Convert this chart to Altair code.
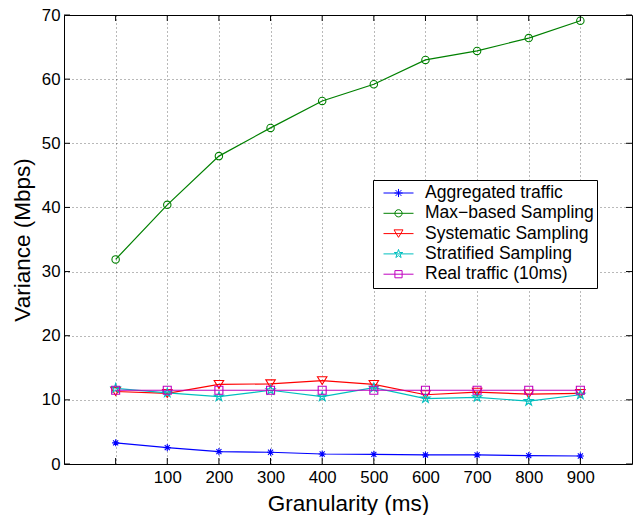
import math
import altair as alt
import pandas as pd

# ---- data ----
granularity = [0, 100, 200, 300, 400, 500, 600, 700, 800, 900]
aggregated = [3.3, 2.55, 1.93, 1.83, 1.56, 1.51, 1.41, 1.41, 1.31, 1.25]
max_based = [31.9, 40.4, 48.0, 52.4, 56.6, 59.2, 63.0, 64.4, 66.4, 69.1]
systematic = [11.3, 11.0, 12.4, 12.5, 13.0, 12.4, 10.8, 11.2, 10.9, 11.0]
stratified = [11.8, 11.1, 10.5, 11.5, 10.5, 11.9, 10.2, 10.4, 9.8, 10.8]
real_traffic = [11.5, 11.5, 11.5, 11.5, 11.5, 11.5, 11.5, 11.5, 11.5, 11.5]

series_names = ["Aggregated traffic", "Max\u2212based Sampling", "Systematic Sampling",
                "Stratified Sampling", "Real traffic (10ms)"]
series_values = [aggregated, max_based, systematic, stratified, real_traffic]
series_colors = ["#0000FF", "#008000", "#FF0000", "#00BFBF", "#BF00BF"]

x_ticks = [0, 100, 200, 300, 400, 500, 600, 700, 800, 900]
y_ticks = [0, 10, 20, 30, 40, 50, 60, 70]

W, H = 568, 449
FONT = "Liberation Sans"


# ---- marker shapes (unit box -1..1) ----
def poly(pts, s=1.0):
    return "M" + "L".join(f"{x*s:.3f},{y*s:.3f}" for x, y in pts) + "Z"


def asterisk(s=1.0):
    d = 0.72 * s
    return (f"M{-s},0L{s},0M0,{-s}L0,{s}"
            f"M{-d:.3f},{-d:.3f}L{d:.3f},{d:.3f}M{-d:.3f},{d:.3f}L{d:.3f},{-d:.3f}")


def circle(s=1.0):
    return f"M{s},0A{s},{s} 0 1,1 {-s},0A{s},{s} 0 1,1 {s},0Z"


star_pts = []
for k in range(10):
    a = -math.pi / 2 + k * math.pi / 5
    r = 1.0 if k % 2 == 0 else 0.382
    star_pts.append((r * math.cos(a), r * math.sin(a)))
tri_pts = [(-1, -0.83), (1, -0.83), (0, 0.83)]
sq_pts = [(-1, -1), (1, -1), (1, 1), (-1, 1)]

plot_shapes = [asterisk(), circle(), poly(tri_pts), poly(star_pts), poly(sq_pts)]
plot_sizes = [50, 55, 90, 90, 64]
ls = 0.27
legend_shapes = ["M-1,0L1,0" + p for p in
                 [asterisk(ls), circle(0.24), poly(tri_pts, 0.3), poly(star_pts, 0.3), poly(sq_pts, 0.24)]]

xscale = alt.Scale(domain=[-100, 1000], nice=False, zero=False)
yscale = alt.Scale(domain=[0, 70], nice=False)

xaxis = alt.Axis(values=x_ticks, labelExpr="datum.value == 0 ? '' : datum.label",
                 grid=True, ticks=False, domain=False, labelPadding=5,
                 title="Granularity (ms)", titleY=46, titleBaseline="alphabetic")
yaxis = alt.Axis(values=y_ticks, grid=True, ticks=False, domain=False, labelPadding=4,
                 title="Variance (Mbps)", titleX=-42, titleBaseline="middle")

layers = []
rows = []
for name, vals, col, shp, sz in zip(series_names, series_values, series_colors, plot_shapes, plot_sizes):
    df = pd.DataFrame({"g": granularity, "v": vals, "series": name})
    rows.append(df)
    base = alt.Chart(df).encode(
        x=alt.X("g:Q", scale=xscale, axis=xaxis),
        y=alt.Y("v:Q", scale=yscale, axis=yaxis),
    )
    layers.append(base.mark_line(color=col, strokeWidth=1.2))
    layers.append(base.mark_point(color=col, shape=shp, size=sz, filled=False,
                                  strokeWidth=1.1, opacity=1))

# inner tick marks (MATLAB style)
xt = pd.DataFrame({"t": x_ticks})
yt = pd.DataFrame({"t": y_ticks})
tick_len = 6
for y1, y2 in [(H, H - tick_len), (0, tick_len)]:
    layers.append(alt.Chart(xt).mark_rule(color="black", strokeWidth=1).encode(
        x=alt.X("t:Q", scale=xscale, axis=xaxis), y=alt.value(y1), y2=alt.value(y2)))
for x1, x2 in [(0, tick_len), (W, W - tick_len)]:
    layers.append(alt.Chart(yt).mark_rule(color="black", strokeWidth=1).encode(
        y=alt.Y("t:Q", scale=yscale, axis=yaxis), x=alt.value(x1), x2=alt.value(x2)))

# legend layer (invisible points carrying the legend)
all_df = pd.concat(rows)
lab_expr = "datum.label + '\u2003\u2003'"
legend_layer = alt.Chart(all_df).mark_point(opacity=0, filled=False).encode(
    x=alt.X("g:Q", scale=xscale, axis=xaxis),
    y=alt.Y("v:Q", scale=yscale, axis=yaxis),
    color=alt.Color("series:N", scale=alt.Scale(domain=series_names, range=series_colors),
                    legend=alt.Legend(title=None, labelExpr=lab_expr)),
    shape=alt.Shape("series:N", scale=alt.Scale(domain=series_names, range=legend_shapes),
                    legend=alt.Legend(title=None, labelExpr=lab_expr)),
)
layers.append(legend_layer)

chart = alt.layer(*layers).properties(
    width=W, height=H,
    padding={"left": 64, "top": 15, "right": 1, "bottom": 51},
    autosize=alt.AutoSizeParams(type="none"),
).configure(font=FONT).configure_view(
    stroke="black", strokeWidth=1
).configure_axis(
    labelFont=FONT, labelFontSize=16.8, labelColor="black",
    titleFont=FONT, titleFontSize=22.5, titleFontWeight="normal", titleColor="black",
    gridColor="#000000", gridOpacity=0.55, gridDash=[1, 3], gridWidth=1,
).configure_legend(
    orient="none", legendX=309, legendY=165, direction="vertical",
    strokeColor="black", fillColor="white", padding=3,
    clipHeight=20, rowPadding=0.3,
    labelFont=FONT, labelFontSize=17.5, labelColor="black", labelOffset=11, labelLimit=400,
    symbolSize=900, symbolStrokeWidth=1, symbolOpacity=1, symbolOffset=7,
    symbolFillColor="transparent",
)

chart.save("out.html", embed_options={"renderer": "svg", "actions": False})
